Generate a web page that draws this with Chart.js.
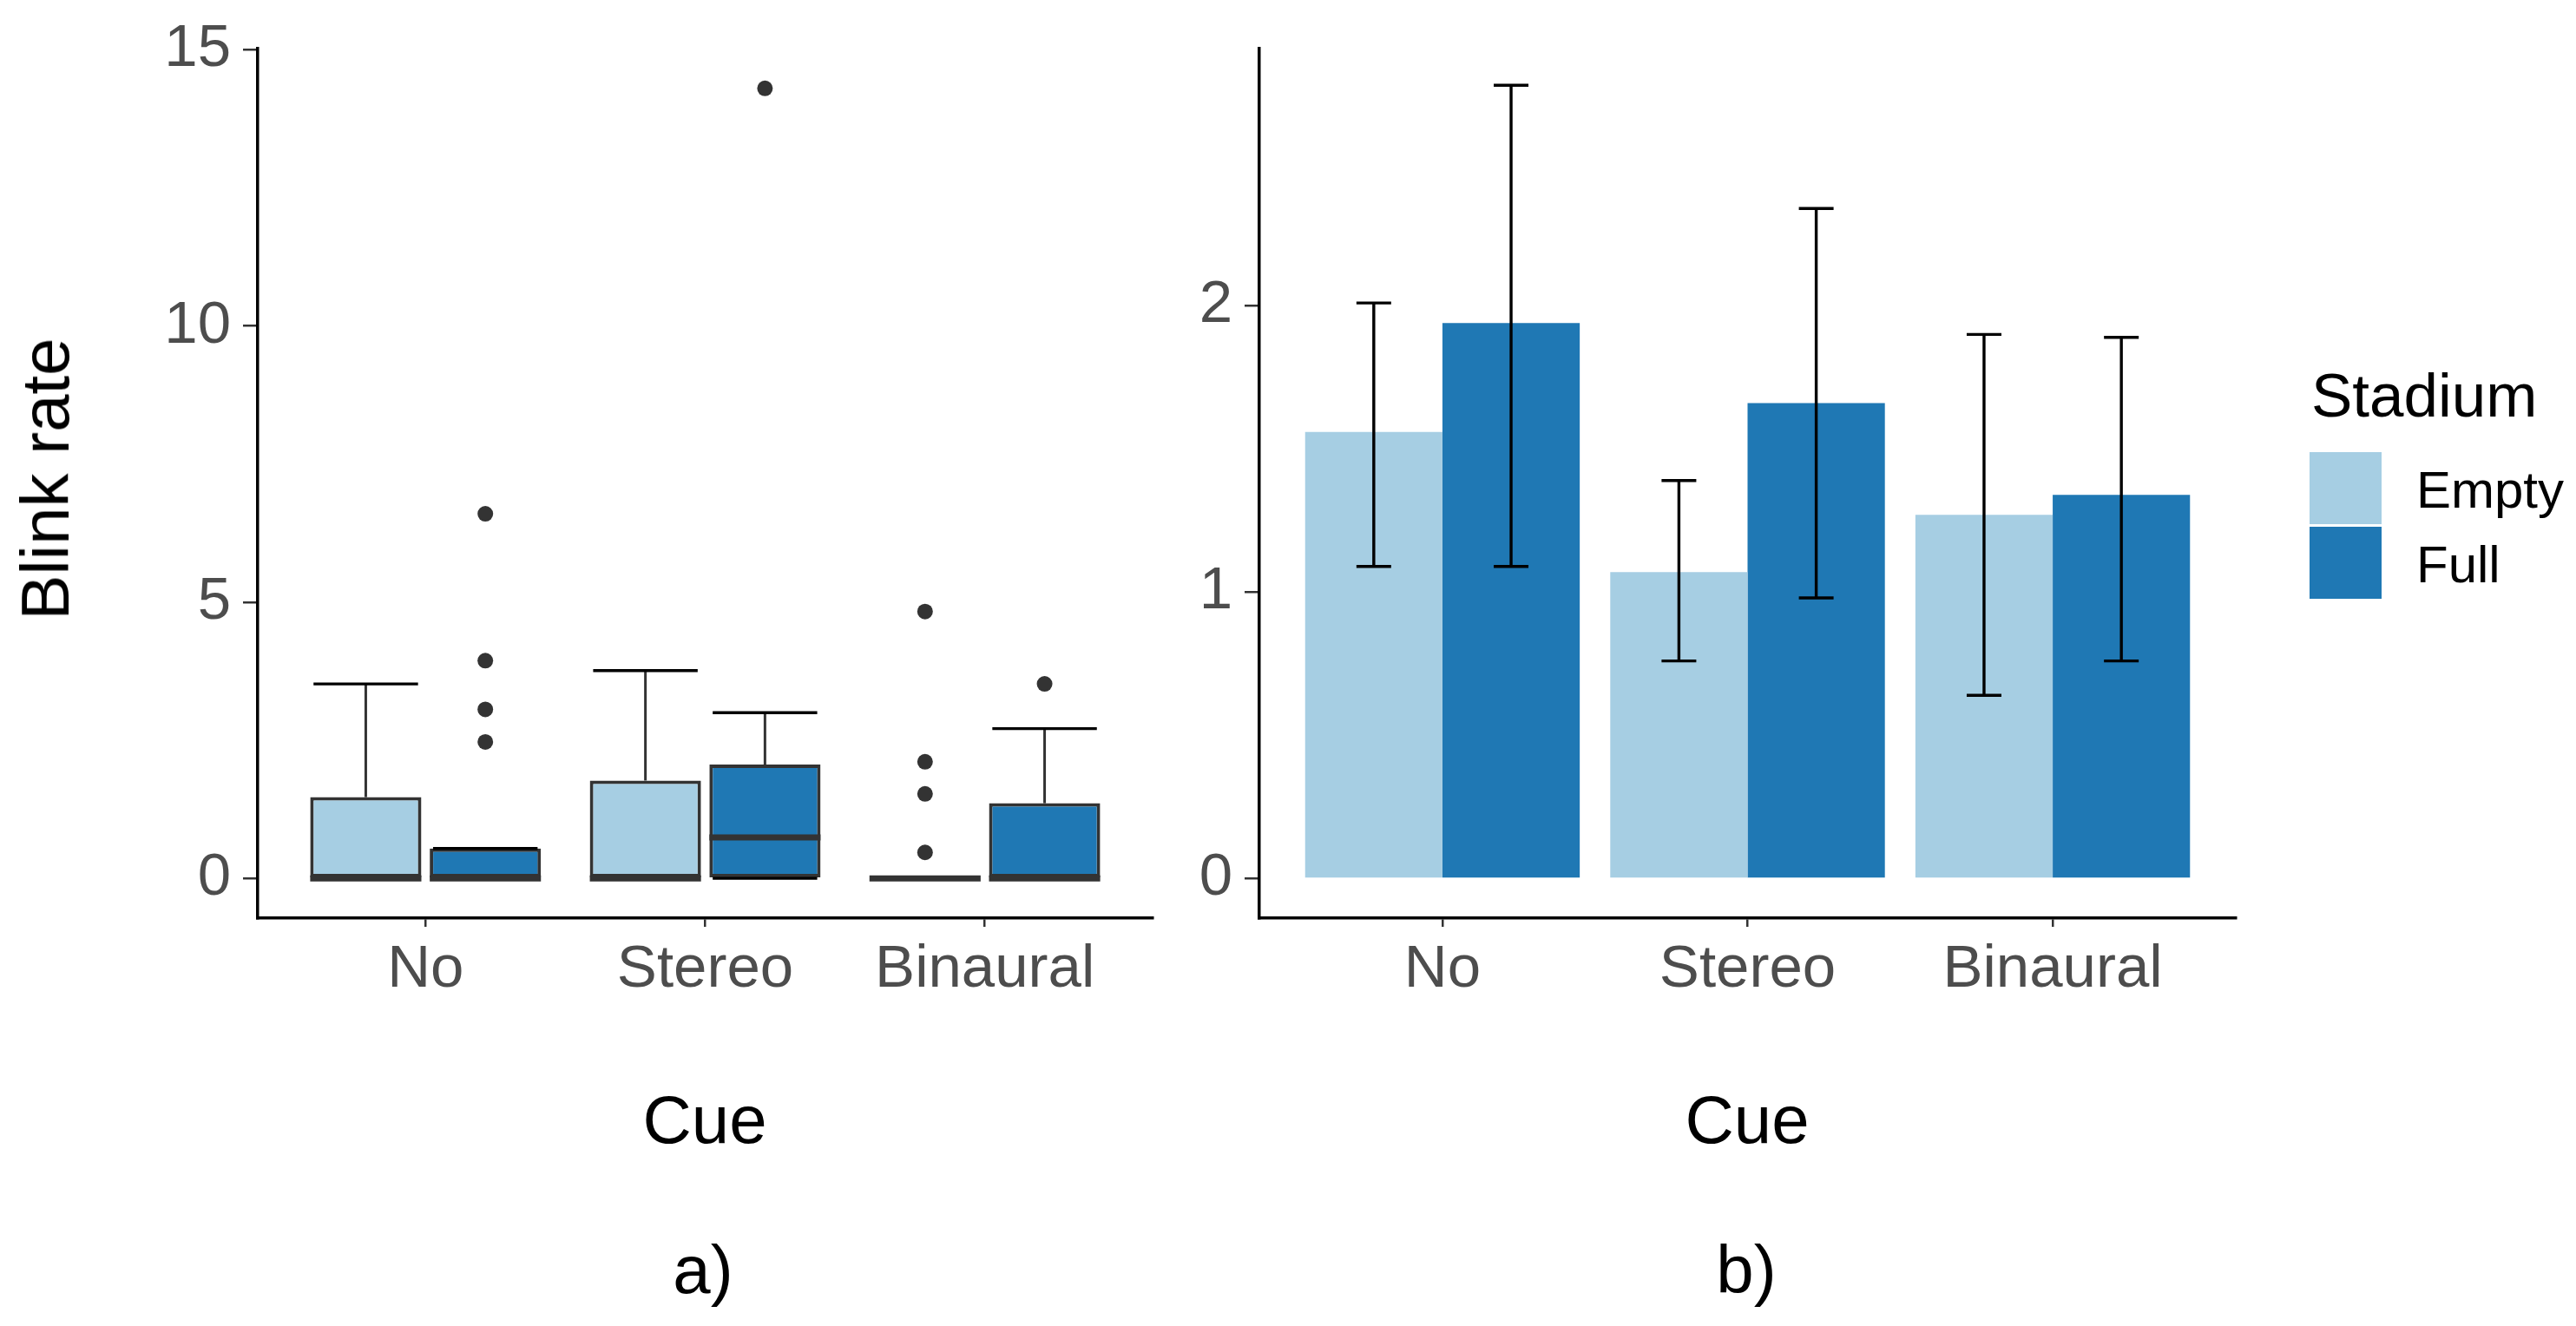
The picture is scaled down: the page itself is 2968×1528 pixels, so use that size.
<!DOCTYPE html>
<html>
<head>
<meta charset="utf-8">
<script src="https://cdn.jsdelivr.net/npm/chart.js@4.4.1/dist/chart.umd.min.js"></script>
<style>
  html, body { margin: 0; padding: 0; background: #fff; }
  body { width: 2968px; height: 1528px; position: relative; overflow: hidden;
         font-family: 'Liberation Sans', Arial, sans-serif; }
  .panel { position: absolute; top: 0; }
  .txt { position: absolute; line-height: 1; white-space: nowrap; color: #000; }
  .swatch { position: absolute; }
</style>
</head>
<body>
<div class="panel" style="left:0;width:1340px;height:1180px">
  <canvas id="boxChart" width="1340" height="1180"></canvas>
</div>
<div class="panel" style="left:1340px;width:1628px;height:1180px">
  <canvas id="barChart" width="1628" height="1180"></canvas>
</div>

<div class="txt" style="left:52px;top:552px;font-size:78px;transform:translate(-50%,-50%) rotate(-90deg)">Blink rate</div>
<div class="txt" style="left:812px;top:1251px;font-size:78px;transform:translateX(-50%)">Cue</div>
<div class="txt" style="left:2013px;top:1251px;font-size:78px;transform:translateX(-50%)">Cue</div>
<div class="txt" style="left:810px;top:1424px;font-size:78px;transform:translateX(-50%)">a)</div>
<div class="txt" style="left:2012px;top:1424px;font-size:78px;transform:translateX(-50%)">b)</div>

<!-- legend -->
<div class="txt" style="left:2663px;top:420px;font-size:71px">Stadium</div>
<div class="swatch" style="left:2661px;top:521px;width:83px;height:83px;background:#A6CEE3"></div>
<div class="swatch" style="left:2661px;top:607px;width:83px;height:83px;background:#1F78B4"></div>
<div class="txt" style="left:2784px;top:535px;font-size:60px">Empty</div>
<div class="txt" style="left:2784px;top:621px;font-size:60px">Full</div>

<script>
// ─── Data ────────────────────────────────────────────────────
const CUES     = ['No', 'Stereo', 'Binaural'];
const STADIUM  = ['Empty', 'Full'];
const COLORS   = ['#A6CEE3', '#1F78B4'];

// a) box plot of blink rate (per cue, per stadium)
const EMPTY_Q1   = [0, 0, 0];
const EMPTY_MED  = [0, 0, 0];
const EMPTY_Q3   = [1.47, 1.77, 0];
const EMPTY_WLO  = [0, 0, 0];
const EMPTY_WHI  = [3.52, 3.76, 0];
const EMPTY_OUT  = [[], [], [4.83, 2.11, 1.53, 0.47]];

const FULL_Q1    = [0, 0, 0];
const FULL_MED   = [0, 0.74, 0];
const FULL_Q3    = [0.54, 2.06, 1.36];
const FULL_WLO   = [0, 0, 0];
const FULL_WHI   = [0.54, 3.00, 2.71];
const FULL_OUT   = [[6.60, 3.94, 3.06, 2.47], [14.30], [3.52]];

const BOX_TICKS  = [0, 5, 10, 15];

// b) mean blink rate with error bars
const MEAN_EMPTY = [1.56, 1.07, 1.27];
const LO_EMPTY   = [1.09, 0.76, 0.64];
const HI_EMPTY   = [2.01, 1.39, 1.90];
const MEAN_FULL  = [1.94, 1.66, 1.34];
const LO_FULL    = [1.09, 0.98, 0.76];
const HI_FULL    = [2.77, 2.34, 1.89];

const BAR_TICKS  = [0, 1, 2];

// ─── Shared styling ──────────────────────────────────────────
Chart.defaults.font.family = "'Liberation Sans', Arial, sans-serif";
const TICK_FONT  = { size: 69 };
const TICK_COLOR = '#4D4D4D';

function xScale() {
  return {
    type: 'linear', min: 0.4, max: 3.6, offset: false,
    afterBuildTicks: (s) => { s.ticks = CUES.map((_, i) => ({ value: i + 1 })); },
    afterFit: (s) => { s.height = 122; },
    ticks: { color: TICK_COLOR, font: TICK_FONT, padding: 9, maxRotation: 0,
             callback: (v) => CUES[v - 1] },
    grid: { drawOnChartArea: false, offset: false, tickLength: 10, color: '#333333', lineWidth: 2.5 },
    border: { display: true, color: '#000', width: 3.5 },
  };
}

function yScale(min, max, ticks, width) {
  return {
    min, max,
    afterBuildTicks: (s) => { s.ticks = ticks.map((v) => ({ value: v })); },
    afterFit: (s) => { s.width = width; },
    ticks: { color: TICK_COLOR, font: TICK_FONT, padding: 14 },
    grid: { drawOnChartArea: false, tickLength: 17, color: '#333333', lineWidth: 2.5 },
    border: { display: true, color: '#000', width: 3.5 },
  };
}

// ─── a) Box plot ─────────────────────────────────────────────
const BOX_SERIES = [
  { q1: EMPTY_Q1, med: EMPTY_MED, q3: EMPTY_Q3, lo: EMPTY_WLO, hi: EMPTY_WHI, out: EMPTY_OUT },
  { q1: FULL_Q1,  med: FULL_MED,  q3: FULL_Q3,  lo: FULL_WLO,  hi: FULL_WHI,  out: FULL_OUT },
];

const boxExtras = {
  id: 'boxExtras',
  afterDatasetsDraw(chart) {
    const ctx = chart.ctx;
    const y = chart.scales.y;
    ctx.save();
    BOX_SERIES.forEach((s, d) => {
      chart.getDatasetMeta(d).data.forEach((bar, i) => {
        const cx = bar.x;
        const half = bar.width / 2;
        const capHalf = half * 0.94;
        // whiskers
        ctx.strokeStyle = '#333333';
        ctx.lineWidth = 3;
        ctx.beginPath();
        ctx.moveTo(cx, y.getPixelForValue(s.q3[i]));
        ctx.lineTo(cx, y.getPixelForValue(s.hi[i]));
        ctx.moveTo(cx, y.getPixelForValue(s.q1[i]));
        ctx.lineTo(cx, y.getPixelForValue(s.lo[i]));
        ctx.stroke();
        // caps
        ctx.strokeStyle = '#000';
        ctx.lineWidth = 3.4;
        ctx.beginPath();
        [s.hi[i], s.lo[i]].forEach((v) => {
          const py = y.getPixelForValue(v);
          ctx.moveTo(cx - capHalf, py);
          ctx.lineTo(cx + capHalf, py);
        });
        ctx.stroke();
        // median
        ctx.strokeStyle = '#333333';
        ctx.lineWidth = 7;
        ctx.beginPath();
        const pm = y.getPixelForValue(s.med[i]);
        ctx.moveTo(cx - half, pm);
        ctx.lineTo(cx + half, pm);
        ctx.stroke();
        // outliers
        ctx.fillStyle = '#333333';
        s.out[i].forEach((v) => {
          ctx.beginPath();
          ctx.arc(cx, y.getPixelForValue(v), 9, 0, Math.PI * 2);
          ctx.fill();
        });
      });
    });
    ctx.restore();
  },
};

new Chart(document.getElementById('boxChart'), {
  type: 'bar',
  data: {
    datasets: BOX_SERIES.map((s, d) => ({
      label: STADIUM[d],
      data: CUES.map((_, i) => ({ x: i + 1, y: [s.q1[i], s.q3[i]] })),
      backgroundColor: COLORS[d],
      borderColor: '#333333',
      borderWidth: 4,
      borderSkipped: false,
      categoryPercentage: 0.855,
      barPercentage: 0.93,
    })),
  },
  options: {
    responsive: false,
    animation: false,
    devicePixelRatio: 1,
    layout: { padding: { top: 50, right: 12, left: 0, bottom: 0 } },
    plugins: { legend: { display: false }, tooltip: { enabled: false } },
    scales: {
      x: xScale(),
      y: yScale(-0.72, 15.03, BOX_TICKS, 297),
    },
  },
  plugins: [boxExtras],
});

// ─── b) Bar chart with error bars ────────────────────────────
const ERR_LO = [LO_EMPTY, LO_FULL];
const ERR_HI = [HI_EMPTY, HI_FULL];

const errorBars = {
  id: 'errorBars',
  afterDatasetsDraw(chart) {
    const ctx = chart.ctx;
    const y = chart.scales.y;
    ctx.save();
    ctx.strokeStyle = '#000';
    ctx.lineWidth = 3.4;
    chart.data.datasets.forEach((_, d) => {
      chart.getDatasetMeta(d).data.forEach((bar, i) => {
        const cx = bar.x;
        const top = y.getPixelForValue(ERR_HI[d][i]);
        const bot = y.getPixelForValue(ERR_LO[d][i]);
        const capHalf = 20;
        ctx.beginPath();
        ctx.moveTo(cx, top); ctx.lineTo(cx, bot);
        ctx.moveTo(cx - capHalf, top); ctx.lineTo(cx + capHalf, top);
        ctx.moveTo(cx - capHalf, bot); ctx.lineTo(cx + capHalf, bot);
        ctx.stroke();
      });
    });
    ctx.restore();
  },
};

new Chart(document.getElementById('barChart'), {
  type: 'bar',
  data: {
    datasets: [MEAN_EMPTY, MEAN_FULL].map((vals, d) => ({
      label: STADIUM[d],
      data: CUES.map((_, i) => ({ x: i + 1, y: vals[i] })),
      backgroundColor: COLORS[d],
      borderWidth: 0,
      categoryPercentage: 0.9,
      barPercentage: 1.0,
    })),
  },
  options: {
    responsive: false,
    animation: false,
    devicePixelRatio: 1,
    layout: { padding: { top: 50, right: 392, left: 0, bottom: 0 } },
    plugins: { legend: { display: false }, tooltip: { enabled: false } },
    scales: {
      x: xScale(),
      y: yScale(-0.138, 2.90, BAR_TICKS, 111),
    },
  },
  plugins: [errorBars],
});
</script>
</body>
</html>
